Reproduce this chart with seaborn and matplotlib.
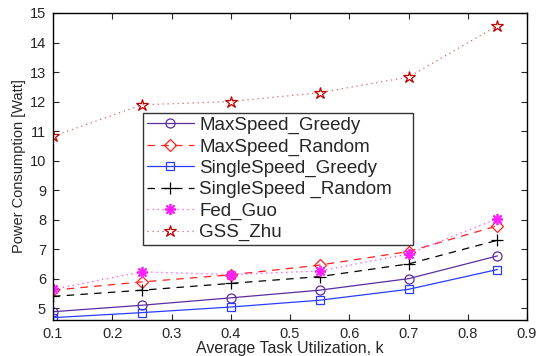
import matplotlib
matplotlib.use("Agg")
import matplotlib.pyplot as plt
import seaborn as sns
import pandas as pd

utilization = [0.1, 0.25, 0.4, 0.55, 0.7, 0.85]
maxspeed_greedy = [4.88, 5.10, 5.35, 5.61, 6.00, 6.77]
maxspeed_random = [5.61, 5.89, 6.13, 6.46, 6.92, 7.79]
singlespeed_greedy = [4.68, 4.85, 5.04, 5.27, 5.64, 6.31]
singlespeed_random = [5.40, 5.61, 5.84, 6.07, 6.50, 7.30]
fed_guo = [5.64, 6.23, 6.14, 6.26, 6.84, 8.03]
gss_zhu = [10.82, 11.89, 12.00, 12.30, 12.83, 14.57]

series_names = ["MaxSpeed_Greedy", "MaxSpeed_Random", "SingleSpeed_Greedy",
                "SingleSpeed _Random", "Fed_Guo", "GSS_Zhu"]
series_values = [maxspeed_greedy, maxspeed_random, singlespeed_greedy,
                 singlespeed_random, fed_guo, gss_zhu]

xticks = [0.1, 0.2, 0.3, 0.4, 0.5, 0.6, 0.7, 0.8, 0.9]
yticks = [5, 6, 7, 8, 9, 10, 11, 12, 13, 14, 15]

sns.set_style("white")
plt.rcParams['font.family'] = ['Liberation Sans', 'DejaVu Sans']

styles = [
    dict(color="#5b2c9e", linestyle="-", marker="o", mfc="none", mec="#5b2c9e"),
    dict(color="#ff2020", linestyle=(0, (6, 5)), marker="D", mfc="none", mec="#ff2020", ms=6),
    dict(color="#2a3cff", linestyle="-", marker="s", mfc="none", mec="#2a3cff", ms=5.5),
    dict(color="black", linestyle=(0, (6, 5)), marker="+", mec="black", ms=8),
    dict(color="#ff40ff", linestyle=(0, (1, 3)), marker=(8, 2, 0), mec="#ff20ff", ms=8, mew=1.3),
    dict(color="#e06060", linestyle=(0, (1, 3)), marker="*", mfc="none", mec="#c00000", ms=9),
]

fig = plt.figure(figsize=(5.38, 3.56), dpi=100)
ax = fig.add_axes([53/538, 1-320/356, (527-53)/538, (320-13)/356])

for name, vals, st in zip(series_names, series_values, styles):
    df = pd.DataFrame({"k": utilization, "p": vals})
    ms = st.pop("ms", 6.5)
    mew = st.pop("mew", 0.9)
    sns.lineplot(data=df, x="k", y="p", ax=ax, label=name, lw=0.9,
                 markersize=ms, markeredgewidth=mew, **st)

ax.set_xlim(0.1, 0.9)
ax.set_ylim(4.6, 15)
ax.set_xticks(xticks)
ax.set_xticklabels([f"{t:g}" for t in xticks])
ax.set_yticks(yticks)
ax.set_yticklabels([str(t) for t in yticks])
ax.tick_params(direction="in", length=4, width=0.8, labelsize=10.5,
               top=True, right=True, bottom=True, left=True, pad=5)
for sp in ax.spines.values():
    sp.set_visible(True)
    sp.set_color("black")
    sp.set_linewidth(1.0)
ax.set_xlabel("Average Task Utilization, k", fontsize=11.5, labelpad=0)
ax.set_ylabel("Power Consumption [Watt]", fontsize=10.5, labelpad=3)

leg = ax.legend(loc="upper left", bbox_to_anchor=(0.19, 0.244, 0.5696, 0.43),
                mode="expand",
                borderaxespad=0, fontsize=13.5, labelspacing=0.22, handlelength=2.5,
                handletextpad=0.3, borderpad=0.2, frameon=True, fancybox=False)
leg.get_frame().set_edgecolor("black")
leg.get_frame().set_linewidth(1.0)

fig.savefig("out.png", dpi=100)
